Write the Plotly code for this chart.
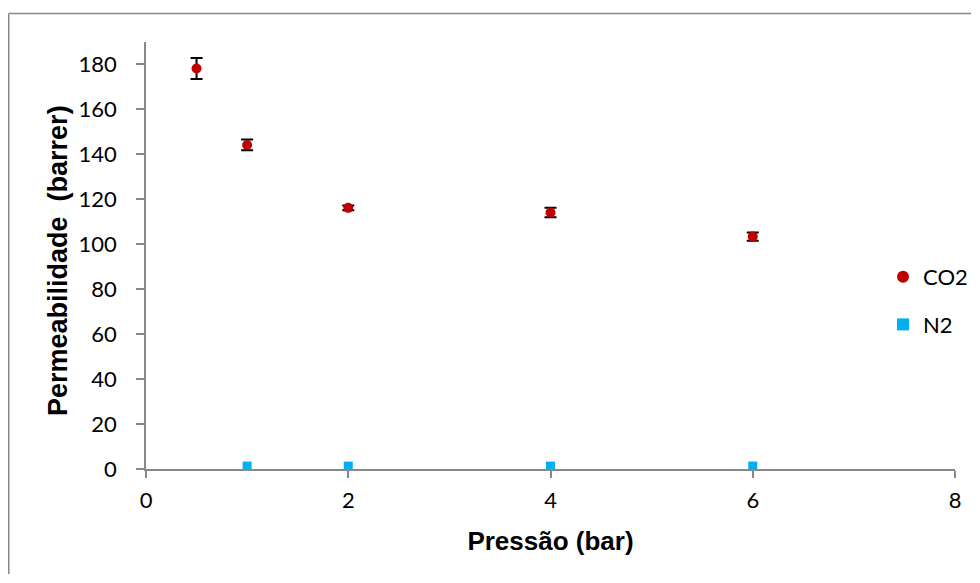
import plotly.graph_objects as go

# Data
x_co2 = [0.5, 1, 2, 4, 6]
co2 = [178.2, 144.2, 116.2, 114.1, 103.4]
co2_err = [4.7, 2.4, 1.1, 2.1, 1.8]

x_n2 = [1, 2, 4, 6]
n2 = [1.3, 1.3, 1.3, 1.3]

x_ticks = [0, 2, 4, 6, 8]
y_ticks = [0, 20, 40, 60, 80, 100, 120, 140, 160, 180]

# page body has an 8px margin, so the figure is 16px smaller than the window
W, H = 964, 567
L, R, T, B = 138, 17, 34, 106
pw, ph = W - L - R, H - T - B

def px_x(p):
    return (p - L) / pw

def px_y(p):
    return (H - B - p) / ph

fig = go.Figure()
fig.add_trace(go.Scatter(
    x=x_co2, y=co2, mode="markers", name="CO2", legendgroup="a",
    marker=dict(symbol="circle", size=10, color="#C00000"),
    error_y=dict(type="data", array=co2_err, visible=True, color="black",
                 thickness=2, width=6),
))
fig.add_trace(go.Scatter(
    x=x_n2, y=n2, mode="markers", name="N2", legendgroup="b",
    marker=dict(symbol="square", size=9, color="#00B0F0"),
))

tick_font = dict(family="Lato, Open Sans, sans-serif", size=22, color="black")
title_family = "Liberation Sans, Arial"

fig.update_layout(
    width=W, height=H,
    margin=dict(l=L, r=R, t=T, b=B, autoexpand=False),
    paper_bgcolor="white", plot_bgcolor="white",
    showlegend=True,
    legend=dict(x=px_x(875), y=px_y(248), xanchor="left", yanchor="top",
                font=tick_font, tracegroupgap=16, itemsizing="constant",
                bgcolor="rgba(0,0,0,0)"),
    xaxis=dict(range=[0, 8], tickvals=x_ticks, showgrid=False, zeroline=False,
               showline=True, linecolor="#888888", linewidth=1.5,
               ticks="outside", ticklen=7, tickcolor="#888888", tickwidth=1.5,
               tickfont=tick_font, ticklabelstandoff=4,
               title=dict(text="Pressão (bar)", standoff=20,
                          font=dict(family=title_family, size=26, color="black",
                                    weight="bold"))),
    yaxis=dict(range=[0, 190], tickvals=y_ticks, showgrid=False, zeroline=False,
               showline=True, linecolor="#888888", linewidth=1.5,
               ticks="outside", ticklen=8, tickcolor="#888888", tickwidth=1.5,
               tickfont=tick_font, ticklabelstandoff=15),
    annotations=[dict(
        text="<b>Permeabilidade  (barrer)</b>", xref="paper", yref="paper",
        x=px_x(50), y=px_y(253), xanchor="center", yanchor="middle",
        textangle=-90, showarrow=False,
        font=dict(family=title_family, size=27, color="black"))],
    shapes=[
        dict(type="line", xref="paper", yref="paper",
             x0=px_x(0.75), y0=px_y(5.5), x1=px_x(W - 1), y1=px_y(5.5),
             line=dict(color="#888888", width=1.5), layer="below"),
        dict(type="line", xref="paper", yref="paper",
             x0=px_x(0.75), y0=px_y(5.5), x1=px_x(0.75), y1=px_y(H - 1),
             line=dict(color="#888888", width=1.5), layer="below"),
    ],
)

fig.write_html("out.html")
